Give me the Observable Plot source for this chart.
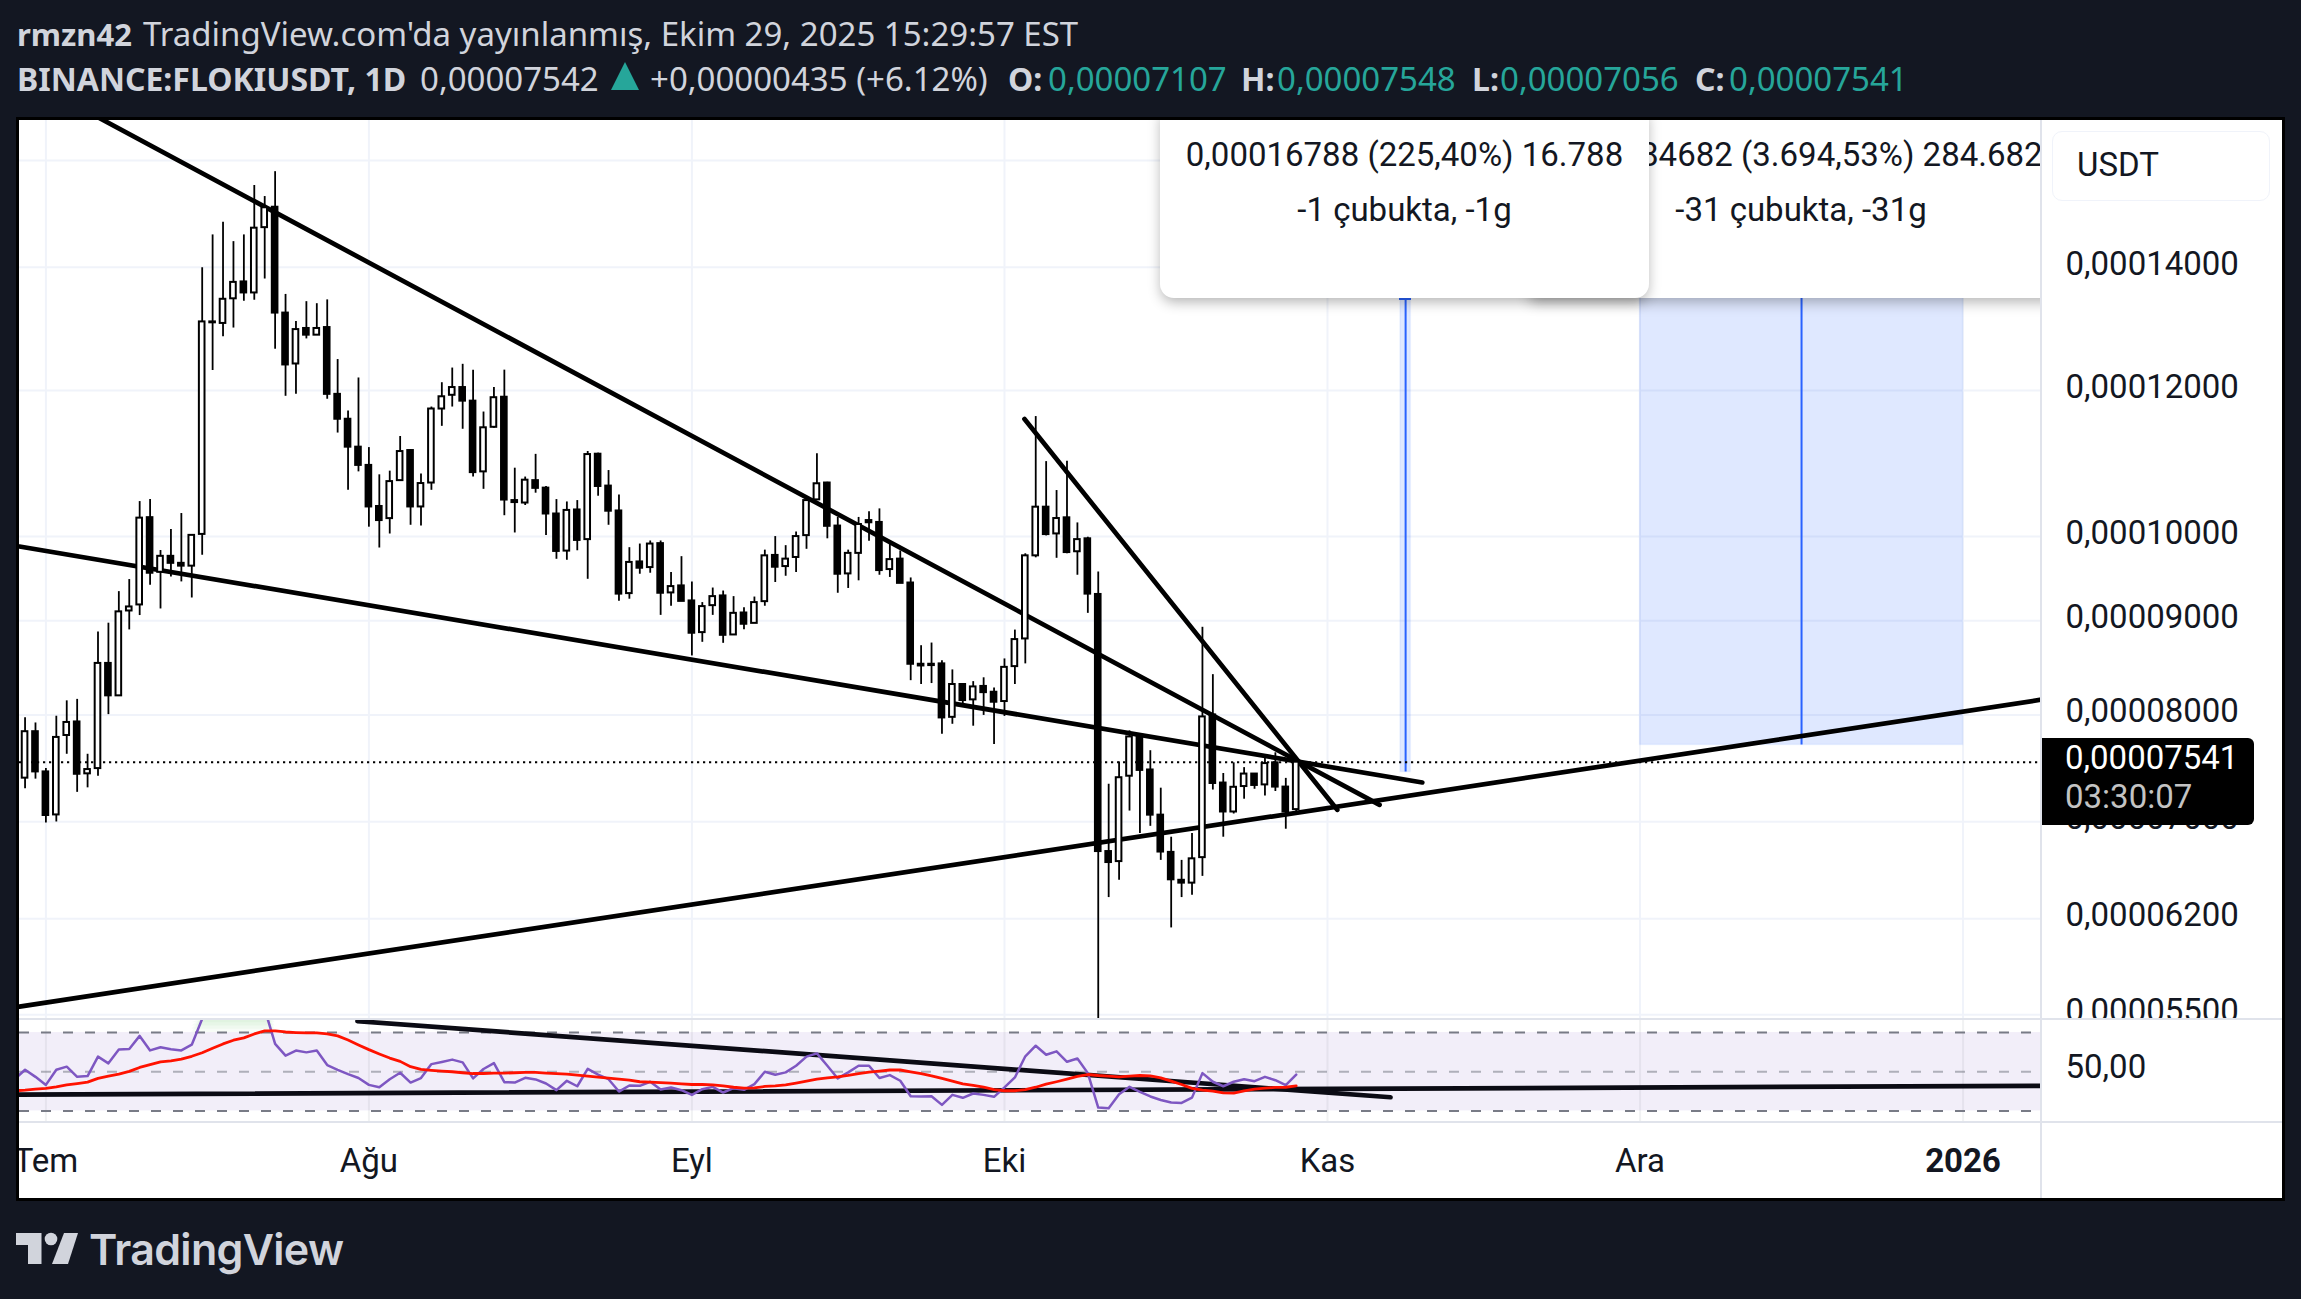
<!DOCTYPE html>
<html lang="tr">
<head>
<meta charset="utf-8">
<script src="https://cdn.jsdelivr.net/npm/d3@7"></script>
<script src="https://cdn.jsdelivr.net/npm/@observablehq/plot@0.6"></script>
<style>
html,body{margin:0;padding:0;background:#131722;width:2301px;height:1299px;overflow:hidden}
.abs{position:absolute;white-space:nowrap}
.hd{font-family:"Noto Sans";font-size:33px;color:#d1d4dc;line-height:40px}
.teal{color:#26a69a}
.ax{font-family:Roboto;font-size:33px;color:#131722}
.tip{background:#fff;box-shadow:0 5px 13px -1px rgba(0,0,0,.3);overflow:hidden}
.tip div{position:absolute;left:0;right:0;text-align:center;font-family:Roboto;font-size:33px;color:#131722;white-space:nowrap}
</style>
</head>
<body>
<div id="root"></div>
<script>
// prices are in units of 0.00001 USDT; first candle is 29 Haziran 2025
const open=[7.392,7.834,7.45,7.06,7.797,7.93,7.432,7.481,8.532,8.193,
9.11,9.179,10.237,9.561,9.754,9.669,9.635,10.025,13.075,13.05,
13.458,13.745,13.557,14.71,15.09,13.22,12.405,12.968,12.86,12.983,
11.943,11.577,11.18,10.928,10.381,10.225,10.722,11.133,10.375,10.69,
11.726,11.929,12.045,11.842,10.84,11.461,11.9,10.458,10.426,10.722,
10.622,10.284,9.818,10.336,9.96,11.082,10.649,10.323,9.31,9.686,
9.618,9.91,9.318,9.4,9.225,8.867,9.171,9.283,8.841,9.087,
8.97,9.217,9.765,9.63,9.74,10.01,10.467,10.69,10.13,9.542,
9.79,10.2,10.176,9.594,9.72,9.434,8.523,8.523,8.527,7.976,
8.31,8.152,8.29,8.23,8.135,8.498,8.797,9.76,10.372,10.031,
10.235,9.81,9.97,9.3,6.744,6.66,7.41,7.8,7.468,7.058,
6.737,6.506,6.483,6.693,8.0,7.347,7.086,7.315,7.43,7.33,
7.535,7.31,7.107];
const high=[7.972,7.92,7.481,7.987,8.142,8.157,7.616,8.875,8.972,9.333,
9.475,10.445,10.471,9.825,10.086,10.29,10.013,13.99,14.577,14.81,
14.455,14.577,15.506,15.293,15.776,13.532,13.08,13.41,13.376,13.44,
12.474,11.697,12.19,11.174,10.8,10.85,11.33,11.146,10.81,11.755,
12.118,12.342,12.4,12.31,11.682,12.045,12.31,10.89,10.77,11.08,
10.644,10.471,10.44,10.458,11.12,11.097,10.858,10.532,9.86,9.905,
9.943,9.943,9.558,9.75,9.446,9.206,9.375,9.34,9.275,9.148,
9.27,9.83,9.998,9.885,10.056,10.467,11.087,10.7,10.24,9.83,
10.24,10.314,10.35,9.905,9.82,9.494,8.723,8.752,8.56,8.463,
8.314,8.34,8.38,8.275,8.58,8.895,9.785,11.616,10.98,10.59,
10.985,10.17,9.99,9.566,7.336,7.543,7.842,7.81,7.65,7.3,
6.866,6.67,6.897,8.926,8.413,7.435,7.535,7.49,7.435,7.576,
7.63,7.39,7.548];
const low=[7.294,7.383,6.99,6.998,7.616,7.262,7.303,7.41,8.003,8.193,
8.897,9.058,9.407,9.133,9.504,9.447,9.259,9.767,12.304,12.836,
12.975,13.417,13.434,13.795,12.636,11.914,11.943,12.8,12.86,11.87,
11.379,10.593,10.84,10.116,9.856,10.03,10.722,10.14,10.13,10.593,
11.475,11.755,11.433,10.77,10.606,11.447,10.262,10.043,10.394,10.555,
10.01,9.718,9.706,9.822,9.478,10.515,10.14,9.22,9.245,9.538,
9.55,9.06,9.164,9.22,8.612,8.76,9.06,8.749,8.841,8.9,
8.97,9.164,9.44,9.514,9.56,9.84,10.467,9.97,9.314,9.37,
9.46,9.94,9.526,9.5,9.43,8.35,8.31,8.32,7.81,7.907,
8.11,7.888,7.995,7.71,7.985,8.31,8.527,9.736,10.006,9.73,
9.785,9.526,9.083,5.3,6.367,6.506,7.094,6.897,6.96,6.67,
6.13,6.367,6.386,6.538,7.283,6.866,7.068,7.2,7.29,7.229,
7.27,6.935,7.056];
const close=[7.834,7.45,7.055,7.778,7.925,7.428,7.472,8.532,8.193,9.1,
9.156,10.231,9.55,9.754,9.669,9.635,10.013,13.075,13.06,13.45,
13.737,13.557,14.7,15.08,13.22,12.39,12.95,12.86,12.968,11.943,
11.577,11.18,10.928,10.375,10.2,10.709,11.119,10.375,10.683,11.726,
11.907,12.045,11.842,10.83,11.454,11.893,10.465,10.432,10.728,10.619,
10.284,9.814,10.33,9.95,11.077,10.644,10.32,9.304,9.68,9.61,
9.905,9.314,9.392,9.22,8.86,9.16,9.275,8.837,9.083,8.96,
9.206,9.76,9.622,9.72,9.998,10.458,10.68,10.127,9.538,9.79,
10.15,10.172,9.582,9.714,9.43,8.523,8.505,8.509,7.97,8.31,
8.145,8.285,8.226,8.128,8.49,8.79,9.76,10.372,10.023,10.226,
9.8,9.96,9.304,6.744,6.652,7.396,7.783,7.464,7.058,6.74,
6.51,6.483,6.683,7.98,7.343,7.086,7.308,7.43,7.325,7.528,
7.31,7.086,7.541];
// RSI and its moving average, first value is 28 Haziran 2025
const rsi=[46.2,51.0,47.4,43.3,51.0,52.6,47.4,47.8,57.7,54.3,61.3,61.6,68.3,60.9,62.5,61.5,60.9,63.8,77,78,
78.5,79,78.5,80,82,64.2,58.2,60.8,59.9,60.8,53.4,51.0,48.8,46.8,43.3,42.1,46.2,49.5,44.5,46.8,
53.9,55.0,56.2,54.8,46.6,51.4,54.4,44.7,44.5,46.9,46.1,44.0,40.6,45.4,42.6,51.5,48.5,46.2,39.9,43.0,
42.8,44.9,40.9,42.0,40.6,38.2,41.1,42.3,39.4,41.6,40.8,43.7,50.0,48.5,49.7,53.1,57.7,59.4,53.1,46.6,
49.7,53.1,53.1,46.8,48.3,45.4,37.5,37.4,37.5,33.1,38.2,36.7,38.9,38.2,37.2,42.0,47.1,57.9,63.3,58.7,
60.4,55.1,56.8,49.3,31.7,31.4,38.5,42.3,39.7,37.4,35.6,34.3,34.1,36.8,49.3,44.9,42.6,44.9,46.2,45.2,
47.4,45.7,43.2,48.5];
const rsiMA=[40.3,40.6,41.1,41.5,42.3,43.3,44.0,44.7,46.6,47.8,48.8,50.2,52.2,53.6,55.0,55.6,56.5,57.9,59.7,62.0,
64.2,66.1,67.3,69.3,70.9,70.9,70.3,70.0,69.8,69.8,69.3,68.3,66.2,63.7,61.3,59.1,57.0,55.3,52.6,51.2,
50.7,50.3,50.0,49.5,49.1,49.1,49.3,49.3,49.5,49.7,49.7,49.3,49.0,48.8,48.3,47.8,47.3,46.8,46.2,45.7,
44.9,44.7,44.5,44.2,43.8,43.5,43.5,43.3,42.8,42.1,41.6,41.8,42.5,42.8,43.3,44.2,45.2,46.2,46.9,47.4,
48.1,49.0,49.8,50.3,50.9,50.9,50.0,49.0,47.9,46.6,45.2,43.8,43.0,42.1,40.9,40.3,40.3,40.9,42.1,43.7,
44.9,46.2,47.6,48.6,48.1,47.8,47.4,47.8,48.1,47.9,46.9,45.2,43.5,41.5,40.6,40.1,39.2,39.1,40.3,41.1,
41.6,42.0,42.1,42.8];
const priceTicks=[5.5,6.2,7,8,9,10,12,14];
const priceTickLabels=["0,00005500","0,00006200","0,00007000","0,00008000","0,00009000","0,00010000","0,00012000","0,00014000"];
const priceGrid=[5.5,6.2,7,8,9,10,12,14,16];
const monthDays=[0,31,62,92,123,153];           // days after 1 Temmuz
const monthLabels=["Tem","Ağu","Eyl","Eki","Kas","Ara"];
const yearDay=184, yearLabel="2026";
const lastClose=7.541;
// trend lines: [day1, price1, day2, price2] (days after 1 Temmuz)
const trendLines=[[0,17.486,128,7.149],[-2.534,9.874,132.1,7.352],[-2.534,5.556,191.53,8.154],[93.92,11.58,123.94,7.105]];
const rsiTrendLines=[[-2.534,38.36,191.53,42.82],[29.9,75.8,129.05,37.0]];
// measure tools: [day1, day2, base price, top price]
const measures=[[130,131,7.448,24.236],[153,184,7.705,292.387]];
const overboughtLevels=[70,71.7,73.4,75];

const day0=Date.UTC(2025,6,1);
const at=d=>new Date(day0+d*864e5);
const xDomain=[at(-2.534),at(191.53)];
const candles=open.map((o,i)=>({d:i-2,o,h:high[i],l:low[i],c:close[i]}));
const rsiRows=rsi.map((v,i)=>({d:i-3,v}));
const W=2263, MR=241;

const price=Plot.plot({
  width:W,height:899,marginLeft:0,marginRight:MR,marginTop:0,marginBottom:0,
  x:{type:"utc",domain:xDomain,axis:null},
  y:{type:"log",domain:[5.467,16.818]},
  style:{fontFamily:"Roboto",fontSize:"33px",background:"transparent",color:"#131722"},
  marks:[
    Plot.ruleX([...monthDays,yearDay],{x:d=>at(d),stroke:"#f0f3fa",strokeWidth:2}),
    Plot.ruleY(priceGrid,{stroke:"#f0f3fa",strokeWidth:2}),
    Plot.rect(measures,{x1:m=>at(m[0]),x2:m=>at(m[1]),y1:m=>m[2],y2:m=>m[3],fill:"#2962ff",fillOpacity:.15,stroke:"#2962ff",strokeOpacity:.06,strokeWidth:1.5,clip:true}),
    Plot.ruleX(measures,{x:m=>at((m[0]+m[1])/2),y1:m=>m[2],y2:m=>m[3],stroke:"#2962ff",strokeWidth:2,clip:true}),
    Plot.ruleY([lastClose],{stroke:"#000",strokeWidth:2,strokeDasharray:"2.2 3.8"}),
    ...trendLines.map(t=>Plot.line([[t[0],t[1]],[t[2],t[3]]],{x:p=>at(p[0]),y:p=>p[1],stroke:"#000",strokeWidth:4.7,strokeLinecap:"round",clip:true})),
    Plot.ruleX(candles,{x:k=>at(k.d),y1:"l",y2:"h",stroke:"#000",strokeWidth:1.8,clip:true}),
    Plot.rect(candles,{x1:k=>at(k.d-.27),x2:k=>at(k.d+.27),y1:"o",y2:"c",fill:k=>k.c>=k.o?"#fff":"#000",stroke:"#000",strokeWidth:2,clip:true}),
    Plot.axisY(priceTicks,{anchor:"right",tickSize:0,tickPadding:24,label:null,dy:-3,
      tickFormat:v=>priceTickLabels[priceTicks.indexOf(v)],textAnchor:"start"})
  ]
});

const rsiPlot=Plot.plot({
  width:W,height:179,marginLeft:0,marginRight:MR,marginTop:0,marginBottom:76.5,
  x:{type:"utc",domain:xDomain,axis:null},
  y:{domain:[24.36,76.67]},
  style:{fontFamily:"Roboto",fontSize:"33px",background:"transparent",color:"#131722"},
  marks:[
    Plot.rect([0],{x1:()=>xDomain[0],x2:()=>xDomain[1],y1:()=>30,y2:()=>70,fill:"#7e57c2",fillOpacity:.1}),
    ...overboughtLevels.map(lv=>Plot.areaY(rsiRows.filter(r=>r.d>=14&&r.d<=22),{x:r=>at(r.d),y1:()=>lv,y2:r=>Math.max(r.v,lv),fill:"#4caf50",fillOpacity:.045,clip:true})),
    Plot.ruleX([...monthDays,yearDay],{x:d=>at(d),stroke:"#787b86",strokeOpacity:.1,strokeWidth:2}),
    Plot.ruleY([70,30],{stroke:"#787b86",strokeWidth:2,strokeDasharray:"10 12"}),
    Plot.ruleY([50],{stroke:"#787b86",strokeOpacity:.55,strokeWidth:2,strokeDasharray:"10 12"}),
    ...rsiTrendLines.map(t=>Plot.line([[t[0],t[1]],[t[2],t[3]]],{x:p=>at(p[0]),y:p=>p[1],stroke:"#0b0b14",strokeWidth:4.7,strokeLinecap:"round",clip:true})),
    Plot.line(rsiRows,{x:r=>at(r.d),y:"v",stroke:"#7e57c2",strokeWidth:2.5,clip:true}),
    Plot.line(rsiMA,{x:(v,i)=>at(i-3),y:v=>v,stroke:"#ff1200",strokeWidth:2.8,clip:true}),
    Plot.axisY([50],{anchor:"right",tickSize:0,tickPadding:24,label:null,dy:-4,tickFormat:()=>"50,00",textAnchor:"start"}),
    Plot.axisX(monthDays.map(at),{anchor:"bottom",tickSize:0,tickPadding:27,label:null,
      tickFormat:v=>monthLabels[monthDays.indexOf((+v-day0)/864e5)]}),
    Plot.axisX([at(yearDay)],{anchor:"bottom",tickSize:0,tickPadding:27,label:null,fontWeight:"700",tickFormat:()=>yearLabel})
  ]
});

const root=document.getElementById("root");
function add(html){const t=document.createElement("template");t.innerHTML=html.trim();const n=t.content.firstChild;root.appendChild(n);return n;}
function hdr(x,y,txt,cls="",size=0){add(`<div class="abs hd ${cls}" style="left:${x}px;top:${y}px;font-weight:${size?700:400};${size?`font-size:${size}px`:""}">${txt}</div>`);}

hdr(17,14,"rmzn42","",31);
hdr(143,14,"TradingView.com'da yayınlanmış, Ekim 29, 2025 15:29:57 EST");
hdr(17,59,"BINANCE:FLOKIUSDT, 1D","",32);
hdr(420,59,"0,00007542");
add(`<svg class="abs" style="left:611px;top:62px" width="28" height="30"><path d="M14 0 L28 28 L0 28 Z" fill="#26a69a"/></svg>`);
hdr(650,59,"+0,00000435 (+6.12%)");
hdr(1008,59,"O:","",32);hdr(1048,59,"0,00007107","teal");
hdr(1241,59,"H:","",32);hdr(1277,59,"0,00007548","teal");
hdr(1472,59,"L:","",32);hdr(1500,59,"0,00007056","teal");
hdr(1695,59,"C:","",32);hdr(1729,59,"0,00007541","teal");

add(`<div class="abs" style="left:16px;top:117px;width:2263px;height:1078px;border:3px solid #000;background:#fff"></div>`);
const p1=add(`<div class="abs" style="left:19px;top:120px;width:${W}px;height:899px;overflow:hidden"></div>`);p1.appendChild(price);
const p2=add(`<div class="abs" style="left:19px;top:1019px;width:${W}px;height:179px;overflow:hidden"></div>`);p2.appendChild(rsiPlot);
add(`<div class="abs" style="left:2040px;top:120px;width:2px;height:1078px;background:#e0e3eb"></div>`);
add(`<div class="abs" style="left:19px;top:1018px;width:2263px;height:2px;background:#e0e3eb"></div>`);
add(`<div class="abs" style="left:19px;top:1121px;width:2263px;height:2px;background:#e0e3eb"></div>`);

// measure tooltips
add(`<div class="abs" style="left:19px;top:120px;width:2021px;height:240px;overflow:hidden">
 <div class="abs" style="left:1380px;top:178px;width:12px;height:2px;background:#2962ff"></div>
 <div class="abs tip" style="left:1510px;top:-10px;width:530px;height:188px"></div>
 <div class="abs" style="left:1782px;top:16px;width:0;font-family:Roboto;font-size:33px;color:#131722;line-height:38px"><span style="position:absolute;transform:translateX(-50%)">0,00284682 (3.694,53%) 284.682</span></div>
 <div class="abs" style="left:1782px;top:71px;width:0;font-family:Roboto;font-size:33px;color:#131722;line-height:38px"><span style="position:absolute;transform:translateX(-50%)">-31 çubukta, -31g</span></div>
 <div class="abs tip" style="left:1141px;top:-10px;width:489px;height:188px;border-radius:0 0 14px 14px">
  <div style="top:26px;line-height:38px">0,00016788 (225,40%) 16.788</div>
  <div style="top:81px;line-height:38px">-1 çubukta, -1g</div></div>
</div>`);

// USDT box, last price label
add(`<div class="abs ax" style="left:2052px;top:131px;width:216px;height:68px;border:1.5px solid #f0f3fa;border-radius:10px;line-height:66px;text-indent:24px">USDT</div>`);
add(`<div class="abs" style="left:2042px;top:738px;width:212px;height:87px;background:#000;border-radius:0 6px 6px 0"></div>`);
add(`<div class="abs ax" style="left:2065px;top:738px;color:#fff;line-height:40px">0,00007541</div>`);
add(`<div class="abs ax" style="left:2065px;top:777px;color:#c3c3c3;line-height:40px">03:30:07</div>`);

// logo
add(`<svg class="abs" style="left:16px;top:1228px" width="70" height="40"><path d="M0 5 H25.500 V36 H12 V17 H0 Z" fill="#d1d4dc"/><circle cx="35" cy="11" r="6.300" fill="#d1d4dc"/><path d="M48 5 H62 L52 36 H36 Z" fill="#d1d4dc"/></svg>`);
add(`<div class="abs" style="left:89px;top:1222px;font-family:Inter;font-weight:600;font-size:43px;line-height:54px;color:#d1d4dc;letter-spacing:-.7px">TradingView</div>`);
</script>
</body>
</html>
